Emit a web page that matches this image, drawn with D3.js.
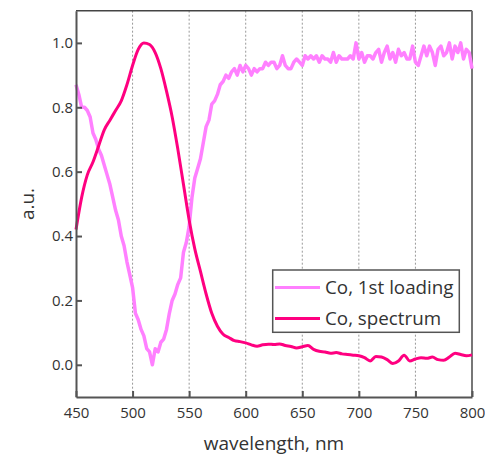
<!DOCTYPE html>
<html><head><meta charset="utf-8">
<script src="https://cdn.jsdelivr.net/npm/d3@7"></script>
<style>body{margin:0;background:#fff}svg{display:block}text{font-family:"Open Sans","Noto Sans",sans-serif;fill:#333}</style>
</head><body><svg id="c" width="485" height="456"></svg>
<script>
const xTicks = [450, 500, 550, 600, 650, 700, 750, 800];
const yTicks = [0.0, 0.2, 0.4, 0.6, 0.8, 1.0];
const seriesNames = ["Co, 1st loading", "Co, spectrum"];
const loadingStart = 450, loadingStep = 2.5;
const loadingValues = [0.87,0.84,0.80,0.80,0.79,0.77,0.72,0.70,0.67,0.65,0.62,0.59,0.56,0.52,0.48,0.45,0.40,0.37,0.32,0.28,
0.24,0.16,0.14,0.11,0.09,0.05,0.04,0.00,0.05,0.04,0.07,0.08,0.11,0.16,0.20,0.22,0.25,0.27,0.35,0.38,
0.43,0.52,0.58,0.61,0.64,0.69,0.74,0.76,0.81,0.82,0.84,0.87,0.88,0.90,0.89,0.91,0.92,0.90,0.93,0.91,
0.93,0.92,0.90,0.92,0.91,0.92,0.92,0.94,0.93,0.94,0.94,0.92,0.93,0.96,0.93,0.92,0.92,0.94,0.95,0.94,
0.93,0.96,0.95,0.96,0.95,0.96,0.94,0.96,0.95,0.95,0.94,0.97,0.94,0.96,0.95,0.95,0.95,0.96,0.95,1.00,
0.95,0.97,0.94,0.96,0.96,0.95,0.97,0.98,0.94,0.97,0.99,0.95,0.97,0.94,0.98,0.96,0.97,0.95,0.95,0.99,
0.94,0.93,0.96,0.99,0.96,0.99,0.97,0.93,0.98,0.99,0.96,0.97,1.00,0.95,0.99,0.97,1.00,0.95,0.98,0.97,0.92];
const spectrumStart = 450, spectrumStep = 5;
const spectrumValues = [0.42,0.52,0.59,0.63,0.68,0.73,0.76,0.79,0.82,0.87,0.93,0.98,1.00,0.995,0.97,0.92,0.85,0.77,0.67,0.56,
0.45,0.36,0.29,0.22,0.16,0.12,0.095,0.085,0.075,0.072,0.068,0.062,0.058,0.062,0.064,0.063,0.065,0.060,0.057,0.052,
0.056,0.060,0.048,0.042,0.040,0.036,0.038,0.034,0.032,0.030,0.028,0.022,0.012,0.026,0.024,0.016,0.004,0.012,0.030,0.012,
0.018,0.022,0.020,0.024,0.016,0.014,0.024,0.036,0.032,0.028,0.031];
const colors = ["#ff80ff", "#ff0080"];

const svg = d3.select("#c");
const L = 76, R = 472, T = 10.7, B = 397;
const x = d3.scaleLinear().domain([450, 800]).range([L, R]);
const y = d3.scaleLinear().domain([-0.1, 1.1]).range([B, T]);

// grid
svg.append("g").selectAll("line").data(xTicks.slice(1, -1)).join("line")
  .attr("x1", d => x(d)).attr("x2", d => x(d)).attr("y1", T).attr("y2", B)
  .attr("stroke", "#999").attr("stroke-width", 1).attr("stroke-dasharray", "2,2");

// frame top/right
svg.append("line").attr("x1", L).attr("x2", R).attr("y1", T).attr("y2", T).attr("stroke", "#444").attr("stroke-width", 1.5);
svg.append("line").attr("x1", R).attr("x2", R).attr("y1", T).attr("y2", B).attr("stroke", "#777").attr("stroke-width", 2);

const lineGen = (start, step) => d3.line().x((d, i) => x(start + i * step)).y(d => y(d));

svg.append("path").datum(loadingValues).attr("d", lineGen(loadingStart, loadingStep))
  .attr("fill", "none").attr("stroke", colors[0]).attr("stroke-width", 3.5).attr("stroke-linejoin", "round");
svg.append("path").datum(spectrumValues).attr("d", lineGen(spectrumStart, spectrumStep).curve(d3.curveMonotoneX))
  .attr("fill", "none").attr("stroke", colors[1]).attr("stroke-width", 3);

// axes
const xAxis = svg.append("g").attr("transform", `translate(0,${B})`)
  .call(d3.axisBottom(x).tickValues(xTicks).tickFormat(d3.format("d")).tickSizeInner(-6).tickSizeOuter(0).tickPadding(10));
const yAxis = svg.append("g").attr("transform", `translate(${L},0)`)
  .call(d3.axisLeft(y).tickValues(yTicks).tickFormat(d3.format(".1f")).tickSizeInner(-6).tickSizeOuter(0).tickPadding(3));
[xAxis, yAxis].forEach(a => {
  a.select(".domain").attr("stroke", "#555").attr("stroke-width", 2);
  a.selectAll(".tick line").attr("stroke", "#555").attr("stroke-width", 2);
  a.selectAll(".tick text").attr("font-size", 15).attr("fill", "#333").style("font-family", '"Open Sans","Noto Sans",sans-serif');
});

svg.append("text").attr("transform", "translate(34,204) rotate(-90)").attr("text-anchor", "middle")
  .attr("font-size", 19).text("a.u.");
svg.append("text").attr("x", 274).attr("y", 450).attr("text-anchor", "middle")
  .attr("font-size", 19).text("wavelength, nm");

// legend
const lg = svg.append("g");
lg.append("rect").attr("x", 272.7).attr("y", 270).attr("width", 186.6).attr("height", 62.3)
  .attr("fill", "#fff").attr("stroke", "#555").attr("stroke-width", 1.5);
seriesNames.forEach((n, i) => {
  const yy = 287.5 + i * 31;
  lg.append("line").attr("x1", 275).attr("x2", 320).attr("y1", yy).attr("y2", yy)
    .attr("stroke", colors[i]).attr("stroke-width", 3);
  lg.append("text").attr("x", 325).attr("y", yy + 6).attr("font-size", 18.8).text(n);
});
</script></body></html>
